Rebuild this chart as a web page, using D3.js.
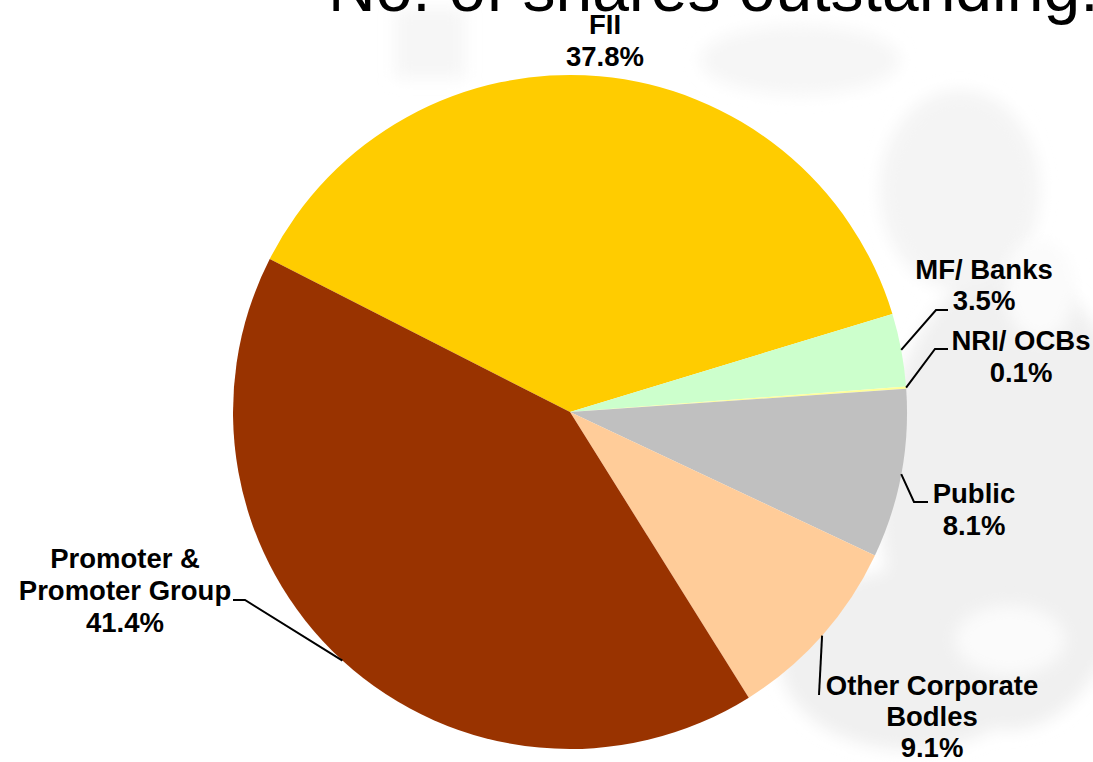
<!DOCTYPE html>
<html>
<head>
<meta charset="utf-8">
<script src="https://cdn.jsdelivr.net/npm/d3@7"></script>
<style>
  html, body { margin: 0; padding: 0; background: #ffffff; }
  svg { display: block; }
  text { font-family: "Liberation Sans", Arial, sans-serif; }
</style>
</head>
<body>
<svg id="chart" width="1093" height="762"></svg>
<script>
// Shareholding pattern (% of shares outstanding)
const categories = ["FII", "MF/ Banks", "NRI/ OCBs", "Public", "Other Corporate Bodles", "Promoter & Promoter Group"];
const shares = [37.8, 3.5, 0.1, 8.1, 9.1, 41.4];
const labelLines = [["FII"], ["MF/ Banks"], ["NRI/ OCBs"], ["Public"], ["Other Corporate", "Bodles"], ["Promoter &", "Promoter Group"]];
const sliceColors = ["#FFCC00", "#CCFFCC", "#FFFF99", "#C0C0C0", "#FFCC99", "#993300"];
const titleText = "No. of shares outstanding:";

// Layout
const W = 1093, H = 762;
const cx = 570, cy = 412, R = 337;
const deg = Math.PI / 180;

// Label anchor (centre x, first baseline y, line gap), and leader elbow / end points
const labelLayout = [
  { x: 605, y: 34, gap: 32, leader: null },
  { x: 984, y: 279, gap: 31, leader: [[936, 310], [948, 310]] },
  { x: 1021, y: 350, gap: 32, leader: [[935, 349], [948, 349]] },
  { x: 974, y: 503, gap: 32, leader: [[914, 502], [928, 502]] },
  { x: 932, y: 695, gap: 31, leader: [[819, 695]] },
  { x: 125, y: 568, gap: 32, leader: [[245, 600], [233, 600]] }
];

const svg = d3.select("#chart");

// Faint background artwork
const defs = svg.append("defs");
defs.append("filter").attr("id", "soft")
  .attr("x", "-50%").attr("y", "-50%").attr("width", "200%").attr("height", "200%")
  .append("feGaussianBlur").attr("stdDeviation", 8);
const wm = svg.append("g").attr("filter", "url(#soft)").attr("fill", "#f0f0f0");
wm.append("ellipse").attr("cx", 1010).attr("cy", 500).attr("rx", 130).attr("ry", 230);
wm.append("ellipse").attr("cx", 910).attr("cy", 660).attr("rx", 130).attr("ry", 90);
wm.append("ellipse").attr("cx", 960).attr("cy", 190).attr("rx", 80).attr("ry", 100).attr("fill", "#f4f4f4");
wm.append("rect").attr("x", 395).attr("y", 8).attr("width", 70).attr("height", 70).attr("fill", "#f6f6f6");
wm.append("ellipse").attr("cx", 800).attr("cy", 60).attr("rx", 100).attr("ry", 35).attr("fill", "#f6f6f6");
const wm2 = svg.append("g").attr("filter", "url(#soft)").attr("fill", "#fbfbfb");
wm2.append("ellipse").attr("cx", 1040).attr("cy", 290).attr("rx", 35).attr("ry", 50);
wm2.append("ellipse").attr("cx", 1010).attr("cy", 640).attr("rx", 55).attr("ry", 35);

// Title (runs off the top edge)
svg.append("text")
  .attr("x", 328).attr("y", 11)
  .attr("font-size", 66)
  .attr("fill", "#000")
  .text(titleText);

// Pie
const data = categories.map((c, i) => ({ name: c, value: shares[i], i }));
const pie = d3.pie().sort(null).value(d => d.value)
  .startAngle(-63 * deg).endAngle(297 * deg);
const arcs = pie(data);
const arc = d3.arc().innerRadius(0).outerRadius(R);
const color = d3.scaleOrdinal().domain(categories).range(sliceColors);

const g = svg.append("g").attr("transform", `translate(${cx},${cy})`);
g.selectAll("path.slice").data(arcs).enter().append("path")
  .attr("class", "slice")
  .attr("d", arc)
  .attr("fill", d => color(d.data.name));

// Leader lines from slice mid-angle on the rim
const leaders = svg.append("g").attr("fill", "none").attr("stroke", "#000").attr("stroke-width", 2);
arcs.forEach((a, i) => {
  const lay = labelLayout[i];
  if (!lay.leader) return;
  const mid = (a.startAngle + a.endAngle) / 2;
  const start = [cx + R * Math.sin(mid), cy - R * Math.cos(mid)];
  leaders.append("polyline")
    .attr("points", [start, ...lay.leader].map(p => p.join(",")).join(" "));
});

// Labels
const labels = svg.append("g")
  .attr("font-size", 27.5).attr("font-weight", "bold")
  .attr("text-anchor", "middle").attr("fill", "#000");
arcs.forEach((a, i) => {
  const lay = labelLayout[i];
  const lines = labelLines[i].concat([d3.format(".1f")(a.data.value) + "%"]);
  const t = labels.append("text").attr("x", lay.x).attr("y", lay.y);
  lines.forEach((ln, k) => {
    t.append("tspan").attr("x", lay.x).attr("y", lay.y + k * lay.gap).text(ln);
  });
});
</script>
</body>
</html>
